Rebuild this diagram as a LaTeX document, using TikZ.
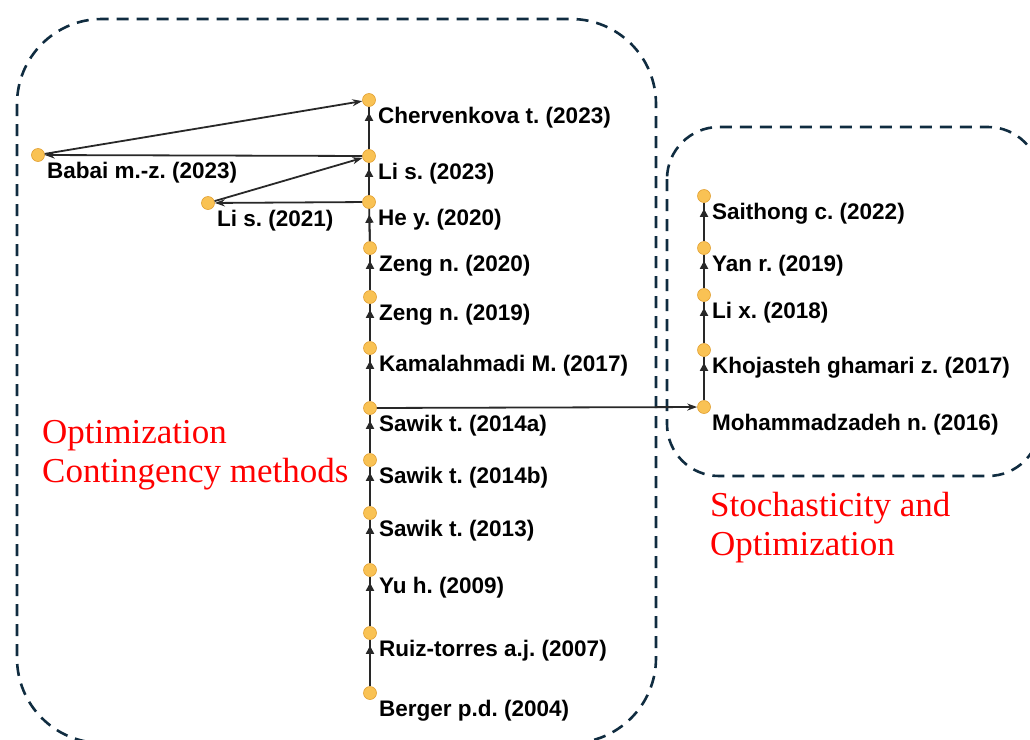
\documentclass[tikz,border=0pt]{standalone}
\usepackage{fontspec}
\setmainfont{Liberation Serif}
\setsansfont{Liberation Sans}
\frenchspacing
\usetikzlibrary{arrows.meta}
\definecolor{navy}{RGB}{16,44,64}
\definecolor{dot}{RGB}{249,194,84}
\definecolor{dotrim}{RGB}{226,160,50}
\definecolor{wire}{RGB}{40,40,40}
\tikzset{
  paper/.style={circle,fill=dot,draw=dotrim,line width=0.6pt,minimum size=13pt,inner sep=0pt},
  lbl/.style={anchor=base west,inner sep=0pt,font=\sffamily\bfseries\fontsize{22.5}{27}\selectfont},
  group/.style={draw=navy,line width=2.6pt,dash pattern=on 12pt off 8pt,rounded corners=85pt},
  topic/.style={anchor=base west,align=left,inner sep=0pt,text=red,font=\rmfamily\fontsize{35}{39}\selectfont},
  cite/.style={draw=wire,line width=1.8pt,-{Stealth[length=10pt,width=7pt]}},
  citeup/.style={draw=wire,line width=1.8pt,
    postaction={draw=wire,shorten >=6pt,-{Triangle[length=8pt,width=8pt]}}}
}
\begin{document}
\begin{tikzpicture}[x=1pt,y=-1pt]
  \clip (0,0) rectangle (1030,739);
  % the two groups
  \draw[group] (17,19) rectangle (656,743);
  \draw[group,rounded corners=52pt] (667,127) rectangle (1040,476);
  \node[topic] (opt) at (42,482) {Optimization\\Contingency methods};
  \node[topic] (sto) at (710,555) {Stochasticity and\\Optimization};

  % main column
  \node[paper] (che) at (369,100) {};
  \node[paper] (lis23) at (369,156) {};
  \node[paper] (hey) at (369,202) {};
  \node[paper] (zen20) at (370,248) {};
  \node[paper] (zen19) at (370,297) {};
  \node[paper] (kam) at (370,348) {};
  \node[paper] (saw14a) at (370,408) {};
  \node[paper] (saw14b) at (370,460) {};
  \node[paper] (saw13) at (370,513) {};
  \node[paper] (yuh) at (370,570) {};
  \node[paper] (rui) at (370,633) {};
  \node[paper] (ber) at (370,693) {};
  \node[paper] (bab) at (38,155) {};
  \node[paper] (lis21) at (208,203) {};
  % right column
  \node[paper] (sai) at (704,196) {};
  \node[paper] (yan) at (704,248) {};
  \node[paper] (lix) at (704,295) {};
  \node[paper] (kho) at (704,350) {};
  \node[paper] (moh) at (704,407) {};

  \node[lbl] at ([xshift=9pt,yshift=-23pt]che.center) {Chervenkova t. (2023)};
  \node[lbl] at ([xshift=9pt,yshift=-23pt]lis23.center) {Li s. (2023)};
  \node[lbl] at ([xshift=9pt,yshift=-23pt]hey.center) {He y. (2020)};
  \node[lbl] at ([xshift=9pt,yshift=-23pt]zen20.center) {Zeng n. (2020)};
  \node[lbl] at ([xshift=9pt,yshift=-23pt]zen19.center) {Zeng n. (2019)};
  \node[lbl] at ([xshift=9pt,yshift=-23pt]kam.center) {Kamalahmadi M. (2017)};
  \node[lbl] at ([xshift=9pt,yshift=-23pt]saw14a.center) {Sawik t. (2014a)};
  \node[lbl] at ([xshift=9pt,yshift=-23pt]saw14b.center) {Sawik t. (2014b)};
  \node[lbl] at ([xshift=9pt,yshift=-23pt]saw13.center) {Sawik t. (2013)};
  \node[lbl] at ([xshift=9pt,yshift=-23pt]yuh.center) {Yu h. (2009)};
  \node[lbl] at ([xshift=9pt,yshift=-23pt]rui.center) {Ruiz-torres a.j. (2007)};
  \node[lbl] at ([xshift=9pt,yshift=-23pt]ber.center) {Berger p.d. (2004)};
  \node[lbl] at ([xshift=9pt,yshift=-23pt]bab.center) {Babai m.-z. (2023)};
  \node[lbl] at ([xshift=9pt,yshift=-23pt]lis21.center) {Li s. (2021)};
  \node[lbl] at ([xshift=8pt,yshift=-23pt]sai.center) {Saithong c. (2022)};
  \node[lbl] at ([xshift=8pt,yshift=-23pt]yan.center) {Yan r. (2019)};
  \node[lbl] at ([xshift=8pt,yshift=-23pt]lix.center) {Li x. (2018)};
  \node[lbl] at ([xshift=8pt,yshift=-23pt]kho.center) {Khojasteh ghamari z. (2017)};
  \node[lbl] at ([xshift=8pt,yshift=-23pt]moh.center) {Mohammadzadeh n. (2016)};

  % citations, older to newer
  \draw[citeup] (ber) -- (rui);
  \draw[citeup] (rui) -- (yuh);
  \draw[citeup] (yuh) -- (saw13);
  \draw[citeup] (saw13) -- (saw14b);
  \draw[citeup] (saw14b) -- (saw14a);
  \draw[citeup] (saw14a) -- (kam);
  \draw[citeup] (kam) -- (zen19);
  \draw[citeup] (zen19) -- (zen20);
  \draw[citeup] (zen20) -- (hey);
  \draw[citeup] (hey) -- (lis23);
  \draw[citeup] (lis23) -- (che);
  \draw[citeup] (moh) -- (kho);
  \draw[citeup] (kho) -- (lix);
  \draw[citeup] (lix) -- (yan);
  \draw[citeup] (yan) -- (sai);
  \draw[cite] (saw14a) -- (moh);
  \draw[cite] (lis23) -- (bab);
  \draw[cite] (bab) -- (che);
  \draw[cite] (hey) -- (lis21);
  \draw[cite] (lis21) -- (lis23);
\end{tikzpicture}
\end{document}
